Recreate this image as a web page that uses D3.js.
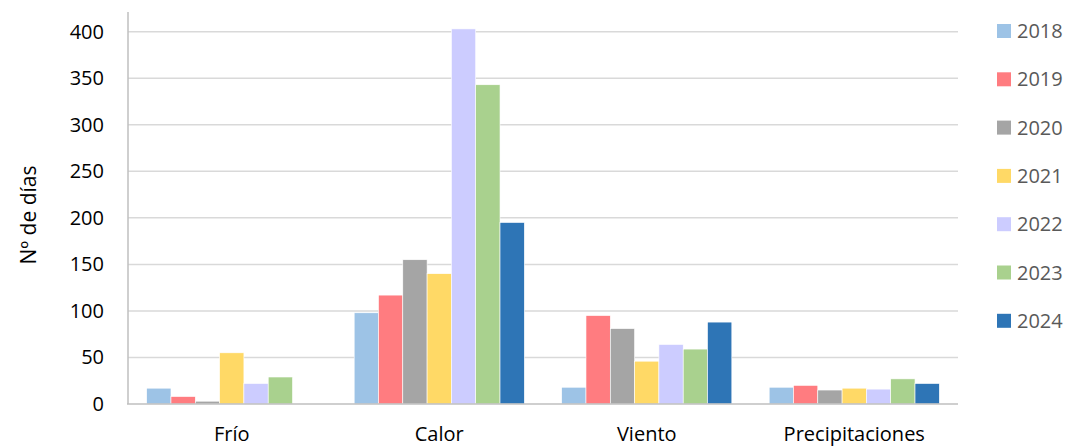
<!DOCTYPE html>
<html>
<head>
<meta charset="utf-8">
<script src="https://cdn.jsdelivr.net/npm/d3@7"></script>
<style>
  html, body { margin: 0; padding: 0; background: #fff; }
  svg { display: block; font-family: "Open Sans", "Noto Sans", sans-serif; }
</style>
</head>
<body>
<svg id="chart" width="1067" height="446"></svg>
<script>
// Days per phenomenon and year
const categories = ["Frío", "Calor", "Viento", "Precipitaciones"];
const years = ["2018", "2019", "2020", "2021", "2022", "2023", "2024"];
const colors = ["#9DC3E6", "#FF7C80", "#A5A5A5", "#FFD966", "#CCCCFF", "#A9D18E", "#2E75B6"];
const v2018 = [17, 98, 18, 18];
const v2019 = [8, 117, 95, 20];
const v2020 = [3, 155, 81, 15];
const v2021 = [55, 140, 46, 17];
const v2022 = [22, 403, 64, 16];
const v2023 = [29, 343, 59, 27];
const v2024 = [0, 195, 88, 22];
const yTicks = [0, 50, 100, 150, 200, 250, 300, 350, 400];
const yTitle = "Nº de días";

const series = [v2018, v2019, v2020, v2021, v2022, v2023, v2024];

const svg = d3.select("#chart");
const plot = { left: 128, right: 958, top: 12, bottom: 404 };

const x0 = d3.scaleBand().domain(categories).range([plot.left, plot.right])
  .paddingInner(0.18).paddingOuter(0.09);
const x1 = d3.scaleBand().domain(years).range([0, x0.bandwidth()]).padding(0);
const y = d3.scaleLinear().domain([0, 400]).range([plot.bottom, 31.7]);

// horizontal gridlines
svg.append("g").selectAll("line").data(yTicks.filter(t => t > 0)).join("line")
  .attr("x1", plot.left).attr("x2", plot.right)
  .attr("y1", d => y(d)).attr("y2", d => y(d))
  .attr("stroke", "#D9D9D9").attr("stroke-width", 1.5);

// bars
const groups = svg.append("g").selectAll("g").data(categories).join("g")
  .attr("transform", d => `translate(${x0(d)},0)`);
groups.selectAll("rect")
  .data((c, ci) => years.map((yr, si) => ({ yr, si, v: series[si][ci] })))
  .join("rect")
  .attr("x", d => x1(d.yr))
  .attr("width", x1.bandwidth())
  .attr("y", d => y(d.v))
  .attr("height", d => y(0) - y(d.v))
  .attr("fill", d => colors[d.si])
  .attr("stroke", "#fff").attr("stroke-width", 0.6);

// axes lines
svg.append("line").attr("x1", plot.left).attr("x2", plot.left)
  .attr("y1", plot.top).attr("y2", plot.bottom)
  .attr("stroke", "#BFBFBF").attr("stroke-width", 1.5);
svg.append("line").attr("x1", plot.left - 1).attr("x2", plot.right)
  .attr("y1", plot.bottom).attr("y2", plot.bottom)
  .attr("stroke", "#BFBFBF").attr("stroke-width", 1.5);

// y tick labels
svg.append("g").selectAll("text").data(yTicks).join("text")
  .attr("x", 104).attr("y", d => y(d)).attr("dy", "0.35em")
  .attr("text-anchor", "end").attr("font-size", 20).attr("fill", "#000")
  .text(d => d);

// category labels
svg.append("g").selectAll("text").data(categories).join("text")
  .attr("x", d => x0(d) + x0.bandwidth() / 2).attr("y", 441)
  .attr("text-anchor", "middle").attr("font-size", 20).attr("fill", "#000")
  .text(d => d);

// y axis title
svg.append("text")
  .attr("transform", `translate(29,${(plot.top + plot.bottom) / 2 + 7}) rotate(-90)`)
  .attr("text-anchor", "middle").attr("dy", "0.35em")
  .attr("font-size", 21).attr("fill", "#000")
  .text(yTitle);

// legend
const legend = svg.append("g").selectAll("g").data(years).join("g")
  .attr("transform", (d, i) => `translate(997,${31 + i * 48.3})`);
legend.append("rect").attr("x", 0).attr("y", -7).attr("width", 14).attr("height", 14)
  .attr("fill", (d, i) => colors[i]);
legend.append("text").attr("x", 20).attr("y", 0).attr("dy", "0.35em")
  .attr("font-size", 20).attr("fill", "#595959").text(d => d);
</script>
</body>
</html>
